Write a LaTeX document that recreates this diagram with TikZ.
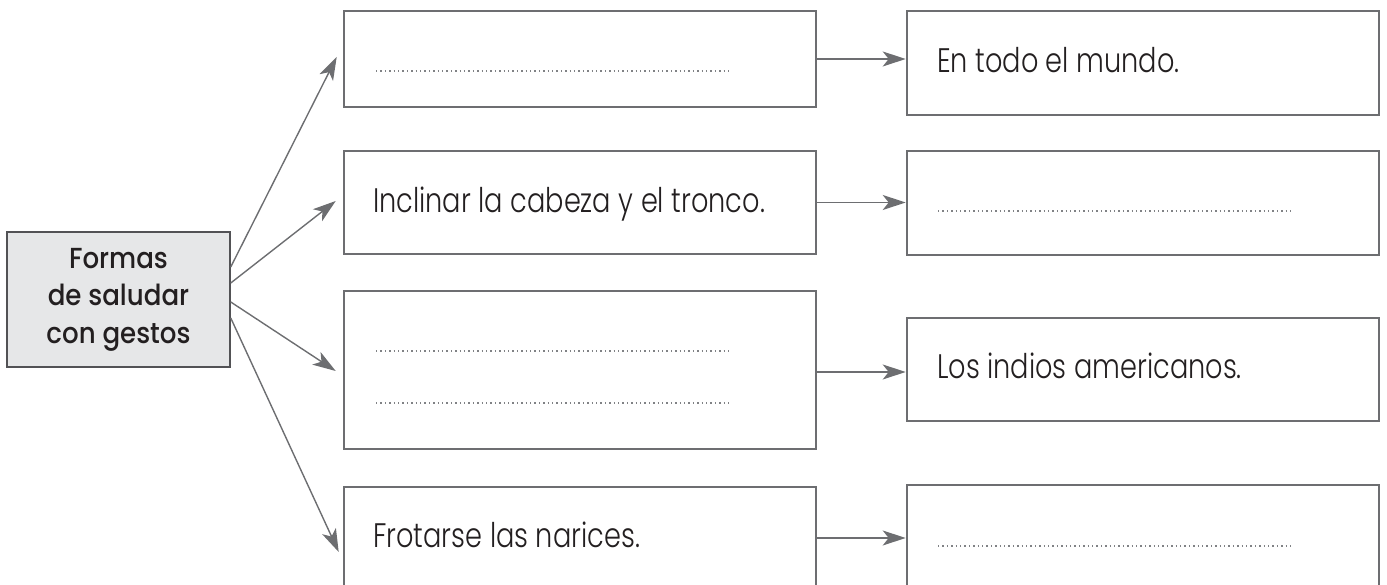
\documentclass[tikz,border=0pt]{standalone}
\usepackage{fontspec}
\IfFontExistsTF{Poppins Light}{%
  \newfontfamily\bodyfont{Poppins Light}[FakeStretch=0.8]%
}{%
  \newfontfamily\bodyfont{Poppins}[FakeStretch=0.8]%
}
\IfFontExistsTF{Poppins Medium}{%
  \newfontfamily\headfont{Poppins Medium}[FakeStretch=0.9]%
}{%
  \newfontfamily\headfont{Poppins}[FakeStretch=0.9,FakeBold=1.5]%
}
\usetikzlibrary{arrows.meta,calc}
\definecolor{boxgray}{HTML}{6D6E71}
\definecolor{dotgray}{HTML}{808285}
\definecolor{fillgray}{HTML}{E6E7E8}
\definecolor{txt}{HTML}{231F20}
\begin{document}
\begin{tikzpicture}[x=1pt,y=1pt,
  box/.style={draw=boxgray,line width=2.6pt,inner sep=0pt,minimum width=472pt},
  headbox/.style={draw=boxgray!75!black,fill=fillgray,line width=1.5pt,inner sep=0pt,
    minimum width=223pt,minimum height=135pt,align=center,text=txt,
    font=\headfont\fontsize{29}{37.5}\selectfont},
  conn/.style={draw=boxgray,line width=1.4pt,-{Stealth[length=23pt,width=15pt,inset=6pt]}},
  dotline/.style={draw=dotgray,line width=1.6pt,dash pattern=on 1.4pt off 3pt},
  body/.style={anchor=base west,inner sep=0pt,text=txt,font=\bodyfont\fontsize{34}{40}\selectfont}
]
\useasboundingbox (0,0) rectangle (1387,585);
\clip (0,0) rectangle (1387,585);

% left box
\node[headbox] (L) at (118.5,285.5) {Formas\\de saludar\\con gestos};

% middle boxes
\node[box,minimum height=96pt]  (M1) at (580,526) {};
\node[box,minimum height=103pt] (M2) at (580,382.5) {};
\node[box,minimum height=158pt] (M3) at (580,215) {};
\node[box,minimum height=113pt] (M4) at (580,41.5) {};

% right boxes
\node[box,minimum height=104pt] (R1) at (1143,522) {};
\node[box,minimum height=104pt] (R2) at (1143,382) {};
\node[box,minimum height=103pt] (R3) at (1143,215.5) {};
\node[box,minimum height=115pt] (R4) at (1143,42.5) {};

% texts
\node[body] (T2) at (373,372) {Inclinar la cabeza y el tronco.};
\node[body] (T4) at (373,37) {Frotarse las narices.};
\node[body] (S1) at (937,512) {En todo el mundo.};
\node[body] (S3) at (937,206) {Los indios americanos.};

% dotted answer lines
\draw[dotline] (376,514) -- (732,514);
\draw[dotline] (376,234) -- (732,234);
\draw[dotline] (376,182) -- (732,182);
\draw[dotline] (938,374) -- (1294,374);
\draw[dotline] (938,39) -- (1294,39);

% diagonal connectors
\draw[conn] ([yshift=32.5pt]L.east) -- ([xshift=-6pt,yshift=2pt]M1.west);
\draw[conn] ([yshift=16.5pt]L.east) -- ([xshift=-7pt,yshift=1.5pt]M2.west);
\draw[conn] ([yshift=-2.5pt]L.east) -- ([xshift=-7pt,yshift=-1pt]M3.west);
\draw[conn] ([yshift=-18.5pt]L.east) -- ([xshift=-4pt,yshift=-8.5pt]M4.west);

% horizontal connectors
\draw[conn] (M1.east) -- (M1.east -| R1.west);
\draw[conn] (M2.east) -- (M2.east -| R2.west);
\draw[conn] ([yshift=-2pt]M3.east) -- ([yshift=-2pt]M3.east -| R3.west);
\coordinate (m4a) at ([yshift=5.5pt]M4.east);
\draw[conn] (m4a) -- (m4a -| R4.west);
\end{tikzpicture}
\end{document}
